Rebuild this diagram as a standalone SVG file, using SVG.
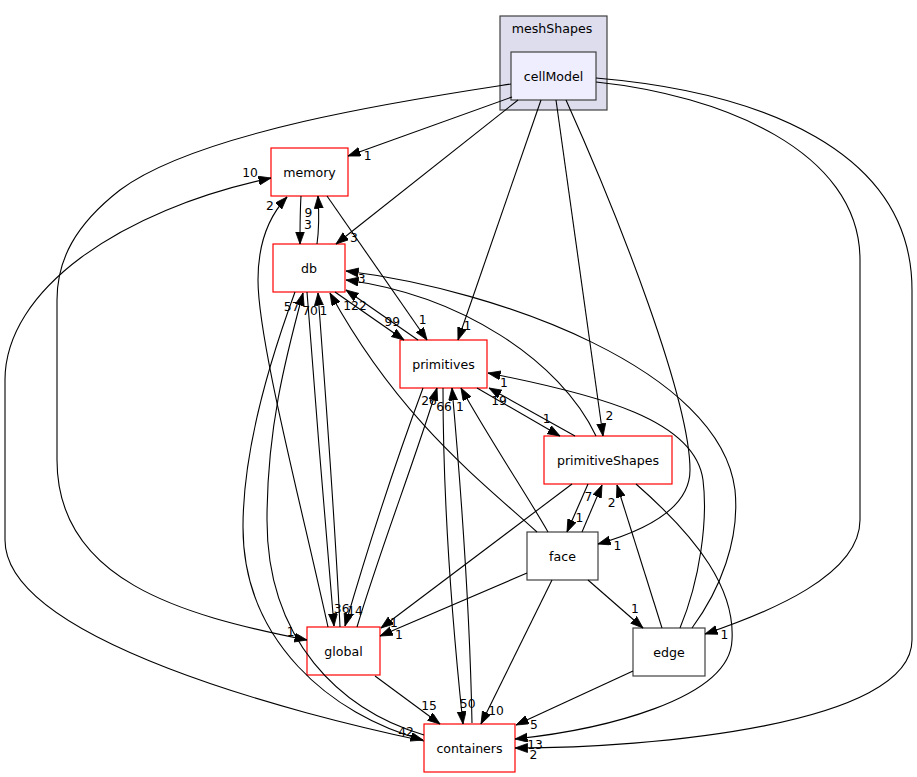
<svg xmlns="http://www.w3.org/2000/svg" width="917" height="777" viewBox="0 0 917 777">
<style>
text{font-family:"DejaVu Sans","Liberation Sans",sans-serif;font-size:12.6px;fill:#000;text-anchor:middle}
.lbl{font-size:12.3px}
.red{fill:#fff;stroke:#ff0000;stroke-width:1.2}
.dir{fill:#fff;stroke:#404040;stroke-width:1.2}
.e{fill:none;stroke:#000;stroke-width:1.1;marker-end:url(#ah)}
</style>
<defs>
<marker id="ah" markerUnits="userSpaceOnUse" markerWidth="14" markerHeight="10" refX="12.5" refY="4.5" orient="auto">
<path d="M0,0 L12.5,4.5 L0,9 z" fill="#000" stroke="#000" stroke-width="0.8"/>
</marker>
</defs>
<rect width="917" height="777" fill="#fff"/>
<g id="cluster_meshShapes">
<rect x="500" y="16" width="107" height="94" fill="#ddddee" stroke="#404040" stroke-width="1.2"/>
<text x="552" y="33">meshShapes</text>
</g>
<g id="node_cellModel">
<rect x="511" y="52" width="85" height="48" fill="#eeeeff" stroke="#404040" stroke-width="1.2"/>
<text x="553.5" y="80.5">cellModel</text>
</g>
<g id="node_memory">
<rect class="red" x="271" y="148" width="77" height="48"/>
<text x="309.5" y="176.5">memory</text>
</g>
<g id="node_db">
<rect class="red" x="273" y="244" width="72" height="48"/>
<text x="309" y="272.5">db</text>
</g>
<g id="node_primitives">
<rect class="red" x="400" y="340" width="87" height="48"/>
<text x="443.5" y="368.5">primitives</text>
</g>
<g id="node_primitiveShapes">
<rect class="red" x="544" y="436" width="128" height="48"/>
<text x="608" y="464.5">primitiveShapes</text>
</g>
<g id="node_face">
<rect class="dir" x="527" y="532" width="71" height="48"/>
<text x="562.5" y="560.5">face</text>
</g>
<g id="node_global">
<rect class="red" x="307" y="627" width="73" height="48"/>
<text x="343.5" y="655.5">global</text>
</g>
<g id="node_edge">
<rect class="dir" x="633" y="628" width="72" height="48"/>
<text x="669" y="656.5">edge</text>
</g>
<g id="node_containers">
<rect class="red" x="424" y="724" width="91" height="48"/>
<text x="469.5" y="752.5">containers</text>
</g>
<g id="connectors">
<path class="e" d="M512,97 L348,156"/>
<path class="e" d="M511,84 C420,98 200,130 120,190 C75,225 57,260 57,300 L57,460 C57,580 180,615 307,640"/>
<path class="e" d="M518,100 L336,244"/>
<path class="e" d="M541,100 L458,340"/>
<path class="e" d="M556,100 L603,436"/>
<path class="e" d="M566,100 C620,220 690,400 690,470 C690,510 640,532 598,544"/>
<path class="e" d="M596,82 C720,95 860,150 860,260 L860,520 C860,575 770,612 705,634"/>
<path class="e" d="M596,78 C760,92 912,150 912,290 L912,640 C912,725 650,748 515,748"/>
<path class="e" d="M301,196 C300,212 300,228 300,244"/>
<path class="e" d="M317,244 C319,230 319,212 318,196"/>
<path class="e" d="M327,196 L427,340"/>
<path class="e" d="M335,292 L404,340"/>
<path class="e" d="M418,340 L346,290"/>
<path class="e" d="M692,628 C720,590 740,540 735,490 C720,370 500,290 346,271"/>
<path class="e" d="M596,436 C560,360 460,295 346,280"/>
<path class="e" d="M537,532 C480,480 400,420 330,293"/>
<path class="e" d="M295,292 C270,360 243,450 243,527 C243,640 330,715 423,740"/>
<path class="e" d="M424,735 C340,710 267,640 267,520 C267,430 285,360 303,293"/>
<path class="e" d="M307,292 C315,400 325,520 334,626"/>
<path class="e" d="M340,627 C335,520 326,400 318,293"/>
<path class="e" d="M328,627 C300,500 258,340 258,280 C258,240 270,215 287,197"/>
<path class="e" d="M423,388 C400,450 370,540 345,626"/>
<path class="e" d="M357,627 C380,550 415,460 437,388"/>
<path class="e" d="M443,388 C443,500 452,620 463,724"/>
<path class="e" d="M472,723 C470,620 462,500 452,388"/>
<path class="e" d="M548,532 C530,500 490,440 461,388"/>
<path class="e" d="M477,388 L560,436"/>
<path class="e" d="M575,436 L489,388"/>
<path class="e" d="M680,628 C700,580 708,520 703,480 C695,420 600,395 488,373"/>
<path class="e" d="M582,532 L602,485"/>
<path class="e" d="M588,484 L567,532"/>
<path class="e" d="M662,628 L617,485"/>
<path class="e" d="M572,484 L381,628"/>
<path class="e" d="M527,573 L380,636"/>
<path class="e" d="M588,580 L643,628"/>
<path class="e" d="M552,580 L481,724"/>
<path class="e" d="M633,671 L516,725"/>
<path class="e" d="M636,484 C700,540 735,590 732,640 C730,700 600,730 515,739"/>
<path class="e" d="M375,676 L440,724"/>
<path class="e" d="M424,741 C300,715 5,640 5,540 L5,380 C5,290 120,210 271,178"/>
<g class="labels">
<text class="lbl" x="367.7" y="160.2">1</text>
<text class="lbl" x="250" y="177.2">10</text>
<text class="lbl" x="270" y="209.5">2</text>
<text class="lbl" x="308.3" y="217.2">9</text>
<text class="lbl" x="308" y="229.2">3</text>
<text class="lbl" x="354" y="242.2">3</text>
<text class="lbl" x="361.7" y="283">3</text>
<text class="lbl" x="355" y="309.5">122</text>
<text class="lbl" x="291.7" y="311.2">57</text>
<text class="lbl" x="310" y="314.5">70</text>
<text class="lbl" x="323.3" y="314.5">1</text>
<text class="lbl" x="392.3" y="326.2">99</text>
<text class="lbl" x="422.7" y="323.5">1</text>
<text class="lbl" x="467.3" y="329.5">1</text>
<text class="lbl" x="504" y="386.8">1</text>
<text class="lbl" x="499" y="405.2">19</text>
<text class="lbl" x="429" y="405.2">26</text>
<text class="lbl" x="444" y="411.2">66</text>
<text class="lbl" x="460" y="411.2">1</text>
<text class="lbl" x="546.7" y="422.8">1</text>
<text class="lbl" x="609.3" y="420.2">2</text>
<text class="lbl" x="588.3" y="500.5">7</text>
<text class="lbl" x="611.7" y="507.2">2</text>
<text class="lbl" x="579.3" y="522.2">1</text>
<text class="lbl" x="617.3" y="549.5">1</text>
<text class="lbl" x="635" y="612.8">1</text>
<text class="lbl" x="724.3" y="638.5">1</text>
<text class="lbl" x="341.7" y="612.8">36</text>
<text class="lbl" x="355" y="615.2">14</text>
<text class="lbl" x="394" y="626.8">1</text>
<text class="lbl" x="399" y="638.8">1</text>
<text class="lbl" x="290.7" y="636.2">1</text>
<text class="lbl" x="429" y="710.2">15</text>
<text class="lbl" x="467.7" y="707.8">50</text>
<text class="lbl" x="496" y="715.2">10</text>
<text class="lbl" x="534" y="728.8">5</text>
<text class="lbl" x="406" y="736.2">42</text>
<text class="lbl" x="535" y="748.8">13</text>
<text class="lbl" x="533.3" y="758.8">2</text>
</g>
</g>
</svg>
